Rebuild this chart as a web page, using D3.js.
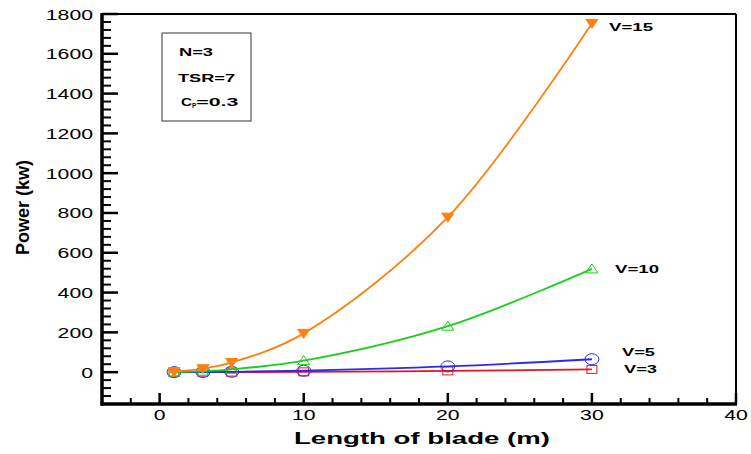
<!DOCTYPE html>
<html><head><meta charset="utf-8">
<script src="https://cdn.jsdelivr.net/npm/d3@7"></script>
<style>body{margin:0;background:#fff}svg{display:block}text{font-family:"Liberation Sans",Arial,sans-serif}</style>
</head><body>
<script>
const lengths = [1, 3, 5, 10, 20, 30];
const powerV3 = [0.02, 0.14, 0.39, 1.6, 6.2, 14];
const powerV5 = [0.07, 0.65, 1.8, 7.2, 28.9, 65];
const powerV10 = [0.6, 5.2, 14.4, 57.7, 231, 519];
const powerV15 = [2, 17.5, 48.7, 195, 779, 1753];
const seriesNames = ["V=3", "V=5", "V=10", "V=15"];
const xTicks = [0, 10, 20, 30, 40];
const yTicks = [0, 200, 400, 600, 800, 1000, 1200, 1400, 1600, 1800];
const params = ["N=3", "TSR=7", "Cp=0.3"];

const W = 751, H = 454;
const m = {l: 102, r: 736, t: 14, b: 404};
const svg = d3.select("body").append("svg").attr("width", W).attr("height", H);
const x = d3.scaleLinear().domain([-4, 40]).range([m.l, m.r]);
const y = d3.scaleLinear().domain([-160, 1800]).range([m.b, m.t]);
const fit = (sel, len) => sel.attr("textLength", len).attr("lengthAdjust", "spacingAndGlyphs");

// frame
svg.append("line").attr("x1", m.l).attr("x2", m.r).attr("y1", m.t).attr("y2", m.t).attr("stroke", "#000").attr("stroke-width", 2);
svg.append("line").attr("x1", m.r).attr("x2", m.r).attr("y1", m.t).attr("y2", m.b).attr("stroke", "#000").attr("stroke-width", 2);

// y axis
const yMinor = d3.range(-160, 1801, 40).filter(v => v % 200 !== 0);
const yAx = svg.append("g");
yAx.selectAll("line.mn").data(yMinor).join("line").attr("x1", m.l).attr("x2", m.l + 9)
  .attr("y1", d => y(d)).attr("y2", d => y(d)).attr("stroke", "#000").attr("stroke-width", 2);
yAx.selectAll("line.mj").data(yTicks).join("line").attr("x1", m.l).attr("x2", m.l + 16)
  .attr("y1", d => y(d)).attr("y2", d => y(d)).attr("stroke", "#000").attr("stroke-width", 2.5);
yAx.selectAll("text").data(yTicks).join("text").attr("x", d => 93 - String(d).length * 11.8).attr("y", d => y(d) + 5.5)
  .attr("font-size", 14).each(function(d) { fit(d3.select(this), String(d).length * 11.8); }).text(d => d);

// x axis
const xMinor = d3.range(-4, 41, 2).filter(v => v % 10 !== 0);
const xAx = svg.append("g");
xAx.selectAll("line.mn").data(xMinor).join("line").attr("x1", d => x(d)).attr("x2", d => x(d))
  .attr("y1", m.b).attr("y2", m.b - 6).attr("stroke", "#000").attr("stroke-width", 2);
xAx.selectAll("line.mj").data(xTicks).join("line").attr("x1", d => x(d)).attr("x2", d => x(d))
  .attr("y1", m.b).attr("y2", m.b - 11).attr("stroke", "#000").attr("stroke-width", 2.5);
xAx.selectAll("text").data(xTicks).join("text").attr("x", d => x(d) - String(d).length * 5.9).attr("y", 420)
  .attr("font-size", 14).each(function(d) { fit(d3.select(this), String(d).length * 11.8); }).text(d => d);

svg.append("line").attr("x1", m.l).attr("x2", m.l).attr("y1", m.t - 1).attr("y2", m.b + 1.5).attr("stroke", "#000").attr("stroke-width", 3.5);
svg.append("line").attr("x1", m.l - 1.5).attr("x2", m.r + 1).attr("y1", m.b).attr("y2", m.b).attr("stroke", "#000").attr("stroke-width", 3.5);

// axis titles
fit(svg.append("text").attr("x", 294).attr("y", 444).attr("font-size", 16.5).attr("font-weight", "bold"), 256).text("Length of blade (m)");
fit(svg.append("text").attr("transform", "translate(29,255) rotate(-90)").attr("font-size", 17.5).attr("font-weight", "bold"), 95).text("Power (kw)");

// series
const series = [
  {name: seriesNames[0], vals: powerV3, color: "#e8141c", marker: "square", fill: "none", lx: 624, ly: 373, w: 33},
  {name: seriesNames[1], vals: powerV5, color: "#2b2bf0", marker: "circle", fill: "none", lx: 622, ly: 356, w: 33},
  {name: seriesNames[2], vals: powerV10, color: "#18d018", marker: "tri-up", fill: "none", lx: 615, ly: 273, w: 44},
  {name: seriesNames[3], vals: powerV15, color: "#ff8010", marker: "tri-down", fill: "#ff8010", lx: 609, ly: 31, w: 44}
];
const line = d3.line().x(d => x(d[0])).y(d => y(d[1])).curve(d3.curveCatmullRom);
series.forEach(s => {
  const pts = lengths.map((l, i) => [l, s.vals[i]]);
  const g = svg.append("g");
  g.append("path").attr("d", line(pts)).attr("fill", "none").attr("stroke", s.color).attr("stroke-width", 1.8);
  pts.forEach(p => {
    const cx = x(p[0]), cy = y(p[1]);
    if (s.marker === "square") {
      g.append("rect").attr("x", cx - 5).attr("y", cy - 4).attr("width", 10).attr("height", 8).attr("fill", "none").attr("stroke", s.color).attr("stroke-width", 1);
    } else if (s.marker === "circle") {
      g.append("ellipse").attr("cx", cx).attr("cy", cy).attr("rx", 7).attr("ry", 5.5).attr("fill", "none").attr("stroke", s.color).attr("stroke-width", 1);
    } else if (s.marker === "tri-up") {
      g.append("path").attr("d", `M${cx - 6},${cy + 4}L${cx + 6},${cy + 4}L${cx},${cy - 5}Z`).attr("fill", "none").attr("stroke", s.color).attr("stroke-width", 1);
    } else {
      g.append("path").attr("d", `M${cx - 6},${cy - 4}L${cx + 6},${cy - 4}L${cx},${cy + 5}Z`).attr("fill", s.fill).attr("stroke", s.color).attr("stroke-width", 1);
    }
  });
  fit(svg.append("text").attr("x", s.lx).attr("y", s.ly).attr("font-size", 11.5).attr("font-weight", "bold"), s.w).text(s.name);
});

// parameter box
svg.append("rect").attr("x", 162).attr("y", 33).attr("width", 89).attr("height", 88).attr("fill", "#fff").attr("stroke", "#333").attr("stroke-width", 1);
fit(svg.append("text").attr("x", 179).attr("y", 56).attr("font-size", 11.5).attr("font-weight", "bold"), 34).text(params[0]);
fit(svg.append("text").attr("x", 178).attr("y", 82).attr("font-size", 11.5).attr("font-weight", "bold"), 57).text(params[1]);
const cp = svg.append("text").attr("x", 181).attr("y", 105.5).attr("font-size", 11.5).attr("font-weight", "bold");
cp.append("tspan").attr("textLength", 11).attr("lengthAdjust", "spacingAndGlyphs").text("C");
cp.append("tspan").attr("font-size", 6.5).attr("dy", 2).text("P");
cp.append("tspan").attr("dy", -2).attr("textLength", 42).attr("lengthAdjust", "spacingAndGlyphs").text("=0.3");
</script>
</body></html>
